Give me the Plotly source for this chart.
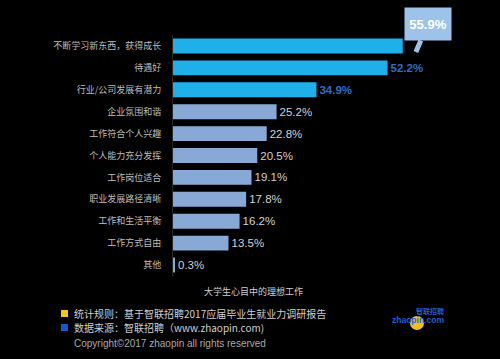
import plotly.graph_objects as go

categories = ["不断学习新东西，获得成长", "待遇好", "行业/公司发展有潜力", "企业氛围和谐",
              "工作符合个人兴趣", "个人能力充分发挥", "工作岗位适合", "职业发展路径清晰",
              "工作和生活平衡", "工作方式自由", "其他"]
values = [55.9, 52.2, 34.9, 25.2, 22.8, 20.5, 19.1, 17.8, 16.2, 13.5, 0.3]
chart_title = "大学生心目中的理想工作"
note_rule = "统计规则：基于智联招聘2017应届毕业生就业力调研报告"
note_source = "数据来源：智联招聘（www.zhaopin.com)"
copyright_text = "Copyright©2017 zhaopin all rights reserved"

FONT = "Liberation Sans, Arial, Noto Sans CJK SC"
CJK = "Noto Sans CJK SC, Liberation Sans"
BRIGHT = "#1fb0ea"
PALE = "#88a9d5"
n_high = 3

L, T, B = 173, 35, 83
PW, PH = 500 - L, 359 - T - B

bar_colors = [BRIGHT if i < n_high else PALE for i in range(len(values))]
texts = []
text_colors = []
for i, v in enumerate(values):
    if i == 0:
        texts.append("")
        text_colors.append("#ffffff")
    elif i < n_high:
        texts.append(f"<b>{v}%</b>")
        text_colors.append("#2a6fc6")
    else:
        texts.append(f"{v}%")
        text_colors.append("#d2d2d2")

fig = go.Figure(go.Bar(
    x=values, y=categories, orientation="h",
    marker=dict(color=bar_colors, line=dict(width=0)),
    text=texts, textposition="outside", textfont=dict(color=text_colors, size=11.5, family=FONT),
    cliponaxis=False, width=0.68,
))

fig.update_layout(
    width=500, height=359,
    paper_bgcolor="#000000", plot_bgcolor="#000000",
    margin=dict(l=L, r=0, t=T, b=B, pad=0),
    showlegend=False,
    font=dict(family=FONT, color="#cccccc"),
    xaxis=dict(range=[0, PW / 4.11], visible=False, showgrid=False, zeroline=False, fixedrange=True),
    yaxis=dict(categoryorder="array", categoryarray=categories[::-1], range=[-0.5, len(categories) - 0.5],
               autorange=False, fixedrange=True,
               showgrid=False, zeroline=False, showline=True, linecolor="#262626", linewidth=1,
               ticks="", ticklabelstandoff=9,
               tickfont=dict(family=CJK, size=9, color="#bdbdbd")),
)


def px_to_paper(xp, yp):
    return (xp - L) / PW, (T + PH - yp) / PH


# callout bubble for top value
fig.add_annotation(
    x=59.1, y=categories[0], xref="x", yref="y",
    text=f"<b>{values[0]}%</b>", showarrow=True, arrowhead=0, arrowwidth=5,
    arrowcolor="#9ec3ea", ax=12, ay=-28, yshift=-6,
    bgcolor="#9ec3ea", width=44, height=30, borderpad=1,
    font=dict(family=FONT, size=13, color="#ffffff"),
)

tx, ty = px_to_paper(253, 291)
fig.add_annotation(x=tx, y=ty, xref="paper", yref="paper", text=chart_title, showarrow=False,
                   xanchor="center", yanchor="middle",
                   font=dict(family=CJK, size=9, color="#cfcfcf"))

# footer notes
for yp, txt, col, fam, sz in [(313, note_rule, "#cfcfcf", CJK, 10),
                              (327, note_source, "#cfcfcf", CJK, 10),
                              (343, copyright_text, "#a9a9a9", FONT, 10)]:
    px_, py_ = px_to_paper(72, yp)
    fig.add_annotation(x=px_, y=py_, xref="paper", yref="paper", text=txt, showarrow=False,
                       xanchor="left", yanchor="middle", font=dict(family=fam, size=sz, color=col))

# legend squares
for yc, col in [(313.5, "#f5c21b"), (327.5, "#1559c4")]:
    x0, y0 = px_to_paper(61, yc - 3.5)
    x1, y1 = px_to_paper(68, yc + 3.5)
    fig.add_shape(type="rect", xref="paper", yref="paper", x0=x0, x1=x1, y0=y1, y1=y0,
                  fillcolor=col, line=dict(width=0))

# logo approximation
cx0, cy0 = px_to_paper(410, 316)
cx1, cy1 = px_to_paper(424, 330)
fig.add_shape(type="circle", xref="paper", yref="paper", x0=cx0, x1=cx1, y0=cy1, y1=cy0,
              fillcolor="#f0c020", line=dict(width=0), layer="below")
lx, ly = px_to_paper(418, 320)
fig.add_annotation(x=lx, y=ly, xref="paper", yref="paper", text="<b>zhaopin.com</b>",
                   xanchor="center", yanchor="middle",
                   showarrow=False, font=dict(family=FONT, size=8.5, color="#1f5fd0"))
lx, ly = px_to_paper(430, 311)
fig.add_annotation(x=lx, y=ly, xref="paper", yref="paper", text="<b>智联招聘</b>",
                   xanchor="center", yanchor="middle",
                   showarrow=False, font=dict(family=CJK, size=7, color="#1f5fd0"))

fig.write_html("out.html", config={"displayModeBar": False},
               post_script="document.body.style.margin='0';document.body.style.background='#000';")
